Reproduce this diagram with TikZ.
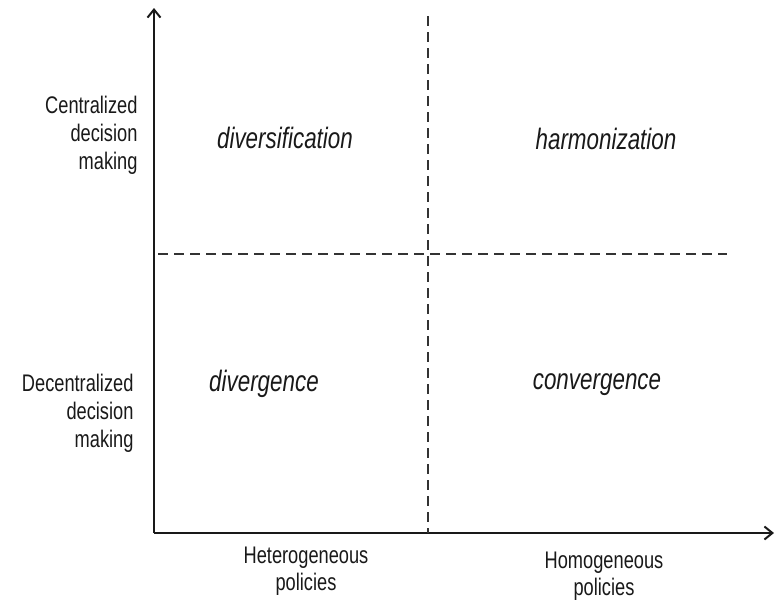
\documentclass[tikz,border=0pt]{standalone}
\usepackage{fontspec}
\setmainfont{Liberation Sans}
\newfontfamily\narrowsans[FakeStretch=0.76]{Liberation Sans}
\usetikzlibrary{arrows.meta}

\begin{document}
\begin{tikzpicture}[x=1pt,y=-1pt,
    axis/.style={-{Straight Barb[length=8pt,width=13pt,line width=2pt]}, line width=2.3pt, color=black!90},
    split/.style={line width=2pt, color=black!80, dash pattern=on 10pt off 6pt},
    sidelabel/.style={align=right, anchor=east, font=\narrowsans\fontsize{24}{28}\selectfont, color=black!90},
    baselabel/.style={align=center, font=\narrowsans\fontsize{24}{27}\selectfont, color=black!90},
    region/.style={font=\narrowsans\fontsize{29.5}{30}\selectfont\itshape, color=black!90}]

            \useasboundingbox (0,0) rectangle (777,603);

            % axes
            \coordinate (origin) at (154,533);
            \coordinate (ytip) at (154,8);
            \coordinate (xtip) at (774,533);
            \draw[axis] (origin)--(ytip);
            \draw[axis] (origin)--(xtip);

            % quadrant split
            \coordinate (vtop) at (428,16);
            \coordinate (vbot) at (428,533);
            \coordinate (hleft) at (158,254);
            \coordinate (hright) at (727,254);
            \draw[split] (vtop)--(vbot);
            \draw[split] (hleft)--(hright);

            % axis labels
            \node[sidelabel] (central) at (141,135) {Centralized\\decision\\making};
            \node[sidelabel] (decentral) at (137,413) {Decentralized\\decision\\making};
            \node[baselabel] (hetero) at (306,571) {Heterogeneous\\policies};
            \node[baselabel] (homo) at (604,576) {Homogeneous\\policies};

            % quadrants
            \node[region] (diversif) at (285,138) {diversification};
            \node[region] (harmon) at (606,139) {harmonization};
            \node[region] (diverg) at (264,384) {divergence};
            \node[region] (converg) at (597,385) {convergence};
\end{tikzpicture}
\end{document}
